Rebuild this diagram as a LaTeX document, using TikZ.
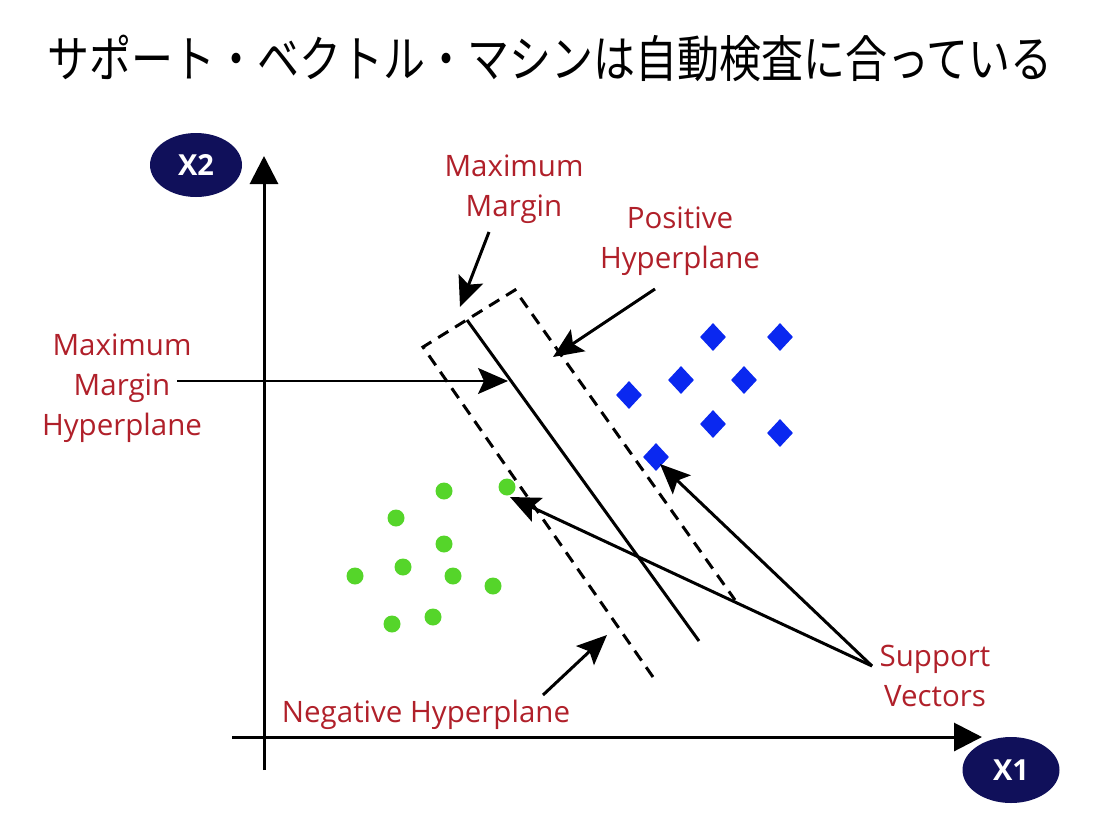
\documentclass[tikz,border=0pt]{standalone}
\usepackage{fontspec}
\usetikzlibrary{arrows.meta,shapes.geometric}
\newfontfamily\cjk{Noto Sans CJK JP}
\newfontfamily\labfont{Open Sans}
\definecolor{navy}{RGB}{16,16,90}
\definecolor{labred}{RGB}{176,32,42}
\definecolor{dotgreen}{RGB}{85,213,42}
\definecolor{diablue}{RGB}{10,40,240}
\begin{document}
\begin{tikzpicture}[x=1pt,y=-1pt,
  lab/.style={text=labred,font=\labfont\fontsize{29.5}{40}\selectfont,align=center,inner sep=0pt},
  axisnode/.style={ellipse,fill=navy,text=white,font=\labfont\bfseries\fontsize{29}{29}\selectfont,inner sep=0pt},
  axisline/.style={line width=3pt,-{Triangle[length=28pt,width=28pt]}},
  bigarrow/.style={line width=3pt,-{Stealth[length=30pt,width=26pt,inset=6pt]}},
  thinarrow/.style={line width=2pt,-{Stealth[length=30pt,width=26pt,inset=6pt]}},
  hyper/.style={line width=3pt},
  marginline/.style={line width=3pt,dash pattern=on 12pt off 8pt},
  gdot/.style={circle,fill=dotgreen,minimum size=17pt,inner sep=0pt},
  bdia/.style={diamond,fill=diablue,minimum width=26pt,minimum height=28pt,inner sep=0pt}]
\useasboundingbox (0,0) rectangle (1113,833);
% title
\node (title) at (550,58) {\scalebox{0.84}[1]{\cjk\fontsize{50}{50}\selectfont サポート・ベクトル・マシンは自動検査に合っている}};
% axes
\node[axisnode,minimum width=92pt,minimum height=64pt] (x2) at (196,165) {X2};
\node[axisnode,minimum width=97pt,minimum height=66pt] (x1) at (1011,770) {X1};
\coordinate (yb) at (264,770);
\coordinate (yt) at (264,156);
\coordinate (xl) at (232,737);
\coordinate (xr) at (982,737);
\draw[axisline] (yb) -- (yt);
\draw[axisline] (xl) -- (xr);
% margin
\coordinate (dl) at (653,677);
\coordinate (dtl) at (423,347);
\coordinate (dtr) at (515,290);
\coordinate (dr) at (735,600);
\draw[marginline] (dl) -- (dtl) -- (dtr) -- (dr);
\coordinate (ht) at (467,320);
\coordinate (hb) at (699,641);
\draw[hyper] (ht) -- (hb);
% points
\foreach \n/\p in {g1/{(444,491)},g2/{(396,518)},g3/{(444,544)},g4/{(403,567)},g5/{(355,576)},g6/{(453,576)},g7/{(493,586)},g8/{(392,624)},g9/{(433,617)},g10/{(507,487)}}
  \node[gdot] (\n) at \p {};
\foreach \n/\p in {b1/{(713,337)},b2/{(780,337)},b3/{(681,380)},b4/{(744,380)},b5/{(629,395)},b6/{(713,424)},b7/{(780,433)},b8/{(656,457)}}
  \node[bdia] (\n) at \p {};
% labels
\node[lab] (mm) at (514,189) {Maximum\\Margin};
\node[lab] (ph) at (680,241) {Positive\\Hyperplane};
\node[lab] (mmh) at (122,388) {Maximum\\Margin\\Hyperplane};
\node[lab] (nh) at (426,715) {Negative Hyperplane};
\node[lab] (sv) at (935,676) {Support\\Vectors};
% arrows
\coordinate (mmS) at (489,232);
\coordinate (mmT) at (460,307);
\draw[bigarrow] (mmS) -- (mmT);
\coordinate (phS) at (655,289);
\coordinate (phT) at (553,357);
\draw[bigarrow] (phS) -- (phT);
\coordinate (mhS) at (177,381);
\coordinate (mhT) at (508,381);
\draw[thinarrow] (mhS) -- (mhT);
\coordinate (svS) at (872,666);
\coordinate (svT1) at (660,464);
\coordinate (svT2) at (510,497);
\draw[bigarrow] (svS) -- (svT1);
\draw[bigarrow] (svS) -- (svT2);
\coordinate (nhS) at (543,695);
\coordinate (nhT) at (607,635);
\draw[bigarrow] (nhS) -- (nhT);
\end{tikzpicture}
\end{document}
